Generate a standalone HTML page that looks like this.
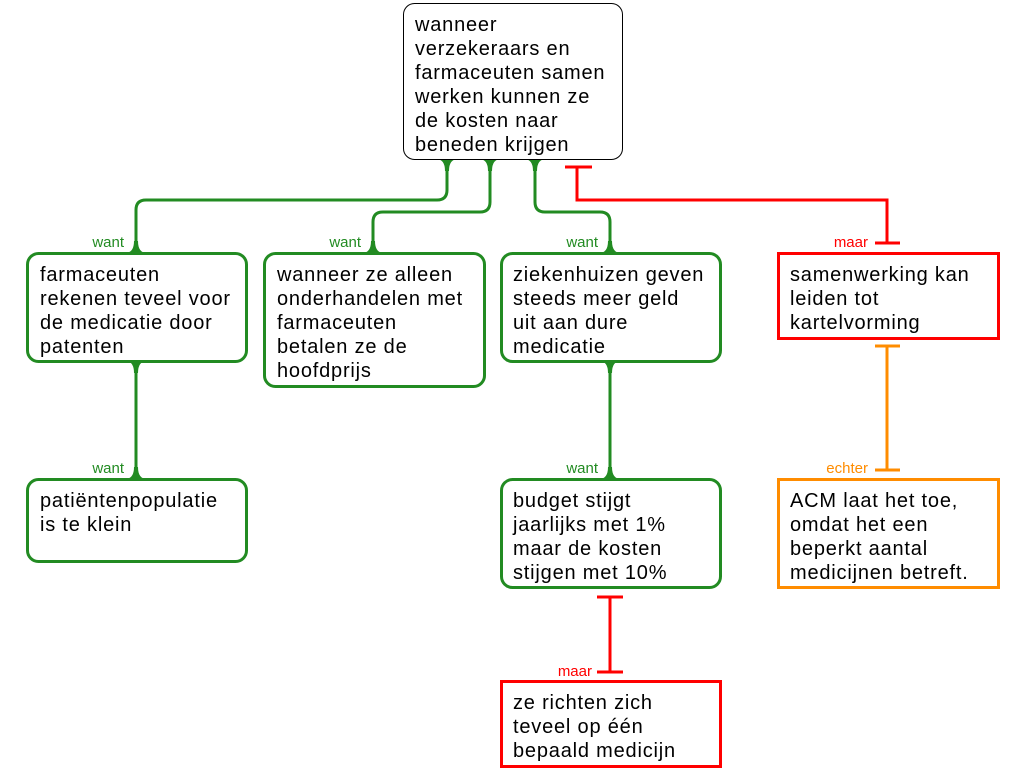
<!DOCTYPE html>
<html><head><meta charset="utf-8"><style>
html,body{margin:0;padding:0;background:#fff;}
svg{display:block;}
text{font-family:"Liberation Sans",Arial,sans-serif;font-size:20px;letter-spacing:0.8px;fill:#000;}
.l{font-size:15px;letter-spacing:0;}
</style></head><body>
<svg width="1024" height="768" viewBox="0 0 1024 768" xmlns="http://www.w3.org/2000/svg">
<defs>
<path id="fd" d="M-11,0 Q-2,0 -2,-12 L2,-12 Q2,0 11,0 Z"/>
<path id="fu" d="M-11,0 Q-2,0 -2,12 L2,12 Q2,0 11,0 Z"/>
</defs>
<g fill="none" stroke="#228b22" stroke-width="3">
<path d="M447,159 V190 Q447,200 437,200 H146 Q136,200 136,210 V253"/>
<path d="M490,159 V202 Q490,212 480,212 H383 Q373,212 373,222 V253"/>
<path d="M535,159 V202 Q535,212 545,212 H600 Q610,212 610,222 V253"/>
<path d="M136,361 V479"/>
<path d="M610,361 V479"/>
</g>
<g fill="#228b22">
<use href="#fu" x="447" y="159"/>
<use href="#fu" x="490" y="159"/>
<use href="#fu" x="535" y="159"/>
<use href="#fd" x="136" y="253"/>
<use href="#fd" x="373" y="253"/>
<use href="#fd" x="610" y="253"/>
<use href="#fu" x="136" y="361"/>
<use href="#fd" x="136" y="479"/>
<use href="#fu" x="610" y="361"/>
<use href="#fd" x="610" y="479"/>
</g>
<g fill="none" stroke="#ff0000" stroke-width="3">
<path d="M565,167 H592 M577,167 V200 H887 V243 M875,243 H900"/>
<path d="M597,597 H623 M610,597 V672 M597,672 H623"/>
</g>
<g fill="none" stroke="#ff8c00" stroke-width="3">
<path d="M875,346 H900 M887,346 V470 M875,470 H900"/>
</g>
<text class="l" x="124" y="247" text-anchor="end" style="fill:#228b22">want</text>
<text class="l" x="361" y="247" text-anchor="end" style="fill:#228b22">want</text>
<text class="l" x="598" y="247" text-anchor="end" style="fill:#228b22">want</text>
<text class="l" x="124" y="473" text-anchor="end" style="fill:#228b22">want</text>
<text class="l" x="598" y="473" text-anchor="end" style="fill:#228b22">want</text>
<text class="l" x="868" y="247" text-anchor="end" style="fill:#ff0000">maar</text>
<text class="l" x="868" y="473" text-anchor="end" style="fill:#ff8c00">echter</text>
<text class="l" x="592" y="676" text-anchor="end" style="fill:#ff0000">maar</text>
<rect x="403.5" y="3.5" width="219" height="156" rx="11" fill="#fff" stroke="#000" stroke-width="1"/>
<g fill="#fff" stroke="#228b22" stroke-width="3">
<rect x="27.5" y="253.5" width="219" height="108" rx="11"/>
<rect x="264.5" y="253.5" width="220" height="133" rx="11"/>
<rect x="501.5" y="253.5" width="219" height="108" rx="11"/>
<rect x="27.5" y="479.5" width="219" height="82" rx="11"/>
<rect x="501.5" y="479.5" width="219" height="108" rx="11"/>
</g>
<g fill="#fff" stroke="#ff0000" stroke-width="3">
<rect x="778.5" y="253.5" width="220" height="85"/>
<rect x="501.5" y="681.5" width="219" height="85"/>
</g>
<rect x="778.5" y="479.5" width="220" height="108" fill="#fff" stroke="#ff8c00" stroke-width="3"/>
<text x="415" y="31">wanneer</text>
<text x="415" y="55">verzekeraars en</text>
<text x="415" y="79">farmaceuten samen</text>
<text x="415" y="103">werken kunnen ze</text>
<text x="415" y="127">de kosten naar</text>
<text x="415" y="151">beneden krijgen</text>

<text x="40" y="281">farmaceuten</text>
<text x="40" y="305">rekenen teveel voor</text>
<text x="40" y="329">de medicatie door</text>
<text x="40" y="353">patenten</text>

<text x="277" y="281">wanneer ze alleen</text>
<text x="277" y="305">onderhandelen met</text>
<text x="277" y="329">farmaceuten</text>
<text x="277" y="353">betalen ze de</text>
<text x="277" y="377">hoofdprijs</text>

<text x="513" y="281">ziekenhuizen geven</text>
<text x="513" y="305">steeds meer geld</text>
<text x="513" y="329">uit aan dure</text>
<text x="513" y="353">medicatie</text>

<text x="790" y="281">samenwerking kan</text>
<text x="790" y="305">leiden tot</text>
<text x="790" y="329">kartelvorming</text>

<text x="40" y="507">patiëntenpopulatie</text>
<text x="40" y="531">is te klein</text>

<text x="513" y="507">budget stijgt</text>
<text x="513" y="531">jaarlijks met 1%</text>
<text x="513" y="555">maar de kosten</text>
<text x="513" y="579">stijgen met 10%</text>

<text x="790" y="507">ACM laat het toe,</text>
<text x="790" y="531">omdat het een</text>
<text x="790" y="555">beperkt aantal</text>
<text x="790" y="579">medicijnen betreft.</text>

<text x="513" y="709">ze richten zich</text>
<text x="513" y="733">teveel op één</text>
<text x="513" y="757">bepaald medicijn</text>
</svg>
</body></html>
